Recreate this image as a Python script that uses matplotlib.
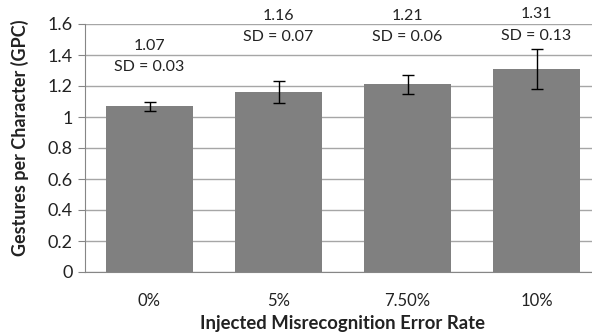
import matplotlib
matplotlib.use("Agg")
import matplotlib.pyplot as plt

# Data
categories = ["0%", "5%", "7.50%", "10%"]
gpc_mean = [1.07, 1.16, 1.21, 1.31]
gpc_sd = [0.03, 0.07, 0.06, 0.13]

# label heights (data units) as placed in the original
mean_label_y = [1.46, 1.65, 1.65, 1.665]
sd_label_y = [1.32, 1.515, 1.515, 1.525]

plt.rcParams['font.family'] = ['Lato', 'DejaVu Sans']

fig = plt.figure(figsize=(5.92, 3.35), dpi=100)
ax = fig.add_axes([85 / 592, (335 - 272) / 335, 516 / 592, 248 / 335])

x = range(len(categories))
ax.bar(x, gpc_mean, width=0.667, color="#808080", zorder=2)
ax.errorbar(x, gpc_mean, yerr=gpc_sd, fmt="none", ecolor="black",
            elinewidth=1, capsize=4, capthick=1, zorder=3)

for i in x:
    ax.text(i, mean_label_y[i], f"{gpc_mean[i]:.2f}", ha="center", va="center",
            fontsize=11.5, color="#222222", clip_on=False)
    ax.text(i, sd_label_y[i], f"SD = {gpc_sd[i]:.2f}", ha="center", va="center",
            fontsize=11.5, color="#222222", clip_on=False)

ax.set_xlim(-0.5, 3.5)
ax.set_ylim(0, 1.6)
ax.set_yticks([0, 0.2, 0.4, 0.6, 0.8, 1.0, 1.2, 1.4, 1.6])
ax.set_yticklabels(["0", "0.2", "0.4", "0.6", "0.8", "1", "1.2", "1.4", "1.6"])
ax.set_xticks(list(x))
ax.set_xticklabels(categories)
ax.tick_params(axis="y", length=5, color="#868686", labelsize=13,
               labelcolor="#222222", pad=4)
ax.tick_params(axis="x", length=0, labelsize=12, labelcolor="#222222", pad=15)

ax.yaxis.grid(True, color="#a6a6a6", linewidth=1, zorder=0)
ax.set_axisbelow(True)
for side in ["top", "right"]:
    ax.spines[side].set_visible(False)
ax.spines["left"].set_color("#868686")
ax.spines["bottom"].set_color("#868686")

ax.set_ylabel("Gestures per Character (GPC)", fontsize=13, fontweight="bold",
              color="#222222")
ax.set_xlabel("Injected Misrecognition Error Rate", fontsize=13.3,
              fontweight="bold", color="#222222")
ax.xaxis.set_label_coords((343 - 85) / 516, -(315 - 272) / 248)
ax.yaxis.set_label_coords(-(85 - 29) / 516, (272 - 138) / 248)

fig.savefig("out.png", dpi=100)
